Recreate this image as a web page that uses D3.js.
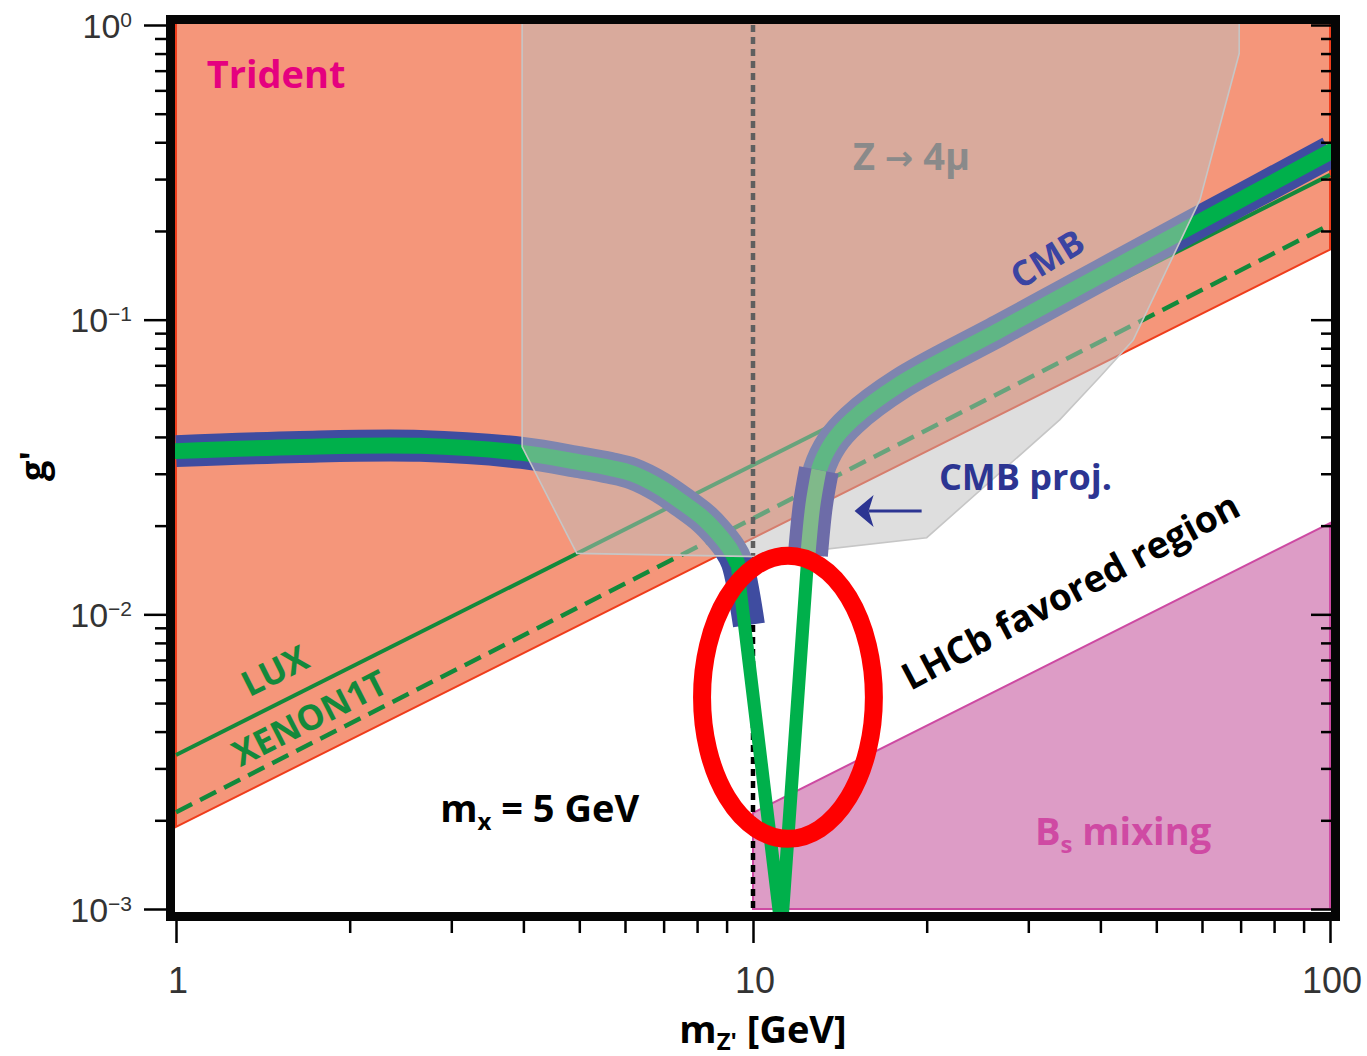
<!DOCTYPE html>
<html>
<head>
<meta charset="utf-8">
<script src="https://cdn.jsdelivr.net/npm/d3@7"></script>
<style>
  body { margin: 0; background: #ffffff; }
  svg { display: block; }
</style>
</head>
<body>
<svg id="chart" width="1367" height="1056"></svg>
<script>
// ---------------- data (m_Z' in GeV, coupling g') ----------------
const xTicks = [1, 10, 100];
const xTickLabels = ["1", "10", "100"];
const yTicks = [1e-3, 1e-2, 1e-1, 1];
const yTickExponents = ["\u22123", "\u22122", "\u22121", "0"];

// lower edge of the neutrino-trident exclusion
const tridentEdge = [[1, 0.0019], [100, 0.173]];
// direct-detection limits
const luxLimit = [[1, 0.00333], [100, 0.31]];
const xenon1tLimit = [[1, 0.00213], [100, 0.21]];
// upper edge of the B_s mixing exclusion (starts at m_Z' = 10 GeV)
const bsMixingEdge = [[10, 0.00212], [100, 0.0204]];
// Z -> 4 mu exclusion contour
const z4muContour = [
  [3.98, 1.25], [3.98, 0.037], [4.95, 0.0161], [10.3, 0.0157], [20.0, 0.0182],
  [34.0, 0.0457], [39.9, 0.0639], [45.6, 0.0853], [59.5, 0.255], [69.6, 0.80], [69.6, 1.25]
];
// CMB band, branch below resonance
const cmbLeft = [
  [1, 0.0358], [1.64, 0.0370], [2.65, 0.0373], [3.98, 0.0353], [5.01, 0.0328],
  [5.65, 0.0314], [6.19, 0.0300], [6.90, 0.0270], [7.56, 0.0239], [8.20, 0.0212],
  [8.66, 0.0190], [9.10, 0.0168], [9.38, 0.0150], [9.84, 0.0092]
];
// relic-abundance dip at the resonance m_Z' = 2 m_x
const relicDip = [[9.38, 0.0150], [11.2, 0.00085], [12.45, 0.0159]];
// CMB band, branch above resonance
const cmbRight = [
  [12.45, 0.0159], [12.7, 0.0235], [13.01, 0.0309], [13.7, 0.0382], [14.85, 0.0457],
  [17.98, 0.0605], [26.8, 0.0923], [39.9, 0.141], [59.5, 0.215], [100, 0.371]
];
const resonanceMass = 10;            // 2 m_x
const highlightBox = { m: [8.16, 16.2], g: [0.00173, 0.0158] };
const projArrow = { m: [19.6, 15.0], g: 0.02244 };

// ---------------- scales & layout ----------------
const svg = d3.select("#chart");
const x = d3.scaleLog().domain([1, 100]).range([176, 1330]);
const y = d3.scaleLog().domain([1e-3, 1]).range([909, 25]);
const plot = { left: 175, right: 1331, top: 24, bottom: 912 };
const gTop = 1.25;   // fills are closed above the visible range and clipped

svg.append("defs").append("clipPath").attr("id", "plotClip")
  .append("rect")
  .attr("x", plot.left).attr("y", plot.top)
  .attr("width", plot.right - plot.left).attr("height", plot.bottom - plot.top);

const layer = svg.append("g").attr("clip-path", "url(#plotClip)");
const line = d3.line().x(d => x(d[0])).y(d => y(d[1]));
const smooth = d3.line().x(d => x(d[0])).y(d => y(d[1])).curve(d3.curveCatmullRom.alpha(0.5));

// Trident exclusion
const [tA, tB] = tridentEdge;
layer.append("path")
  .attr("d", line([tA, tB, [tB[0], gTop], [tA[0], gTop]]) + "Z")
  .attr("fill", "#f5967a").attr("stroke", "#ef3d1c").attr("stroke-width", 2);

// B_s mixing exclusion
const [bA, bB] = bsMixingEdge;
layer.append("path")
  .attr("d", line([[bA[0], yTicks[0]], bA, bB, [bB[0], yTicks[0]]]) + "Z")
  .attr("fill", "#dd9cc6").attr("stroke", "#cd4aa2").attr("stroke-width", 2);

// LUX and XENON1T
layer.append("path").attr("d", line(luxLimit))
  .attr("fill", "none").attr("stroke", "#13893b").attr("stroke-width", 4);
layer.append("path").attr("d", line(xenon1tLimit))
  .attr("fill", "none").attr("stroke", "#13893b").attr("stroke-width", 4.5)
  .attr("stroke-dasharray", "18,9");

// m_Z' = 2 m_x
layer.append("line")
  .attr("x1", x(resonanceMass)).attr("x2", x(resonanceMass))
  .attr("y1", y(1)).attr("y2", plot.bottom)
  .attr("stroke", "#000").attr("stroke-width", 4.5).attr("stroke-dasharray", "7,5");

// CMB band with relic line inside
const blue = "#3f4ca0", green = "#00b04b";
layer.append("path").attr("d", smooth(cmbLeft)).attr("fill", "none")
  .attr("stroke", blue).attr("stroke-width", 32);
layer.append("path").attr("d", smooth(cmbRight)).attr("fill", "none")
  .attr("stroke", blue).attr("stroke-width", 32);
layer.append("path").attr("d", smooth(cmbLeft.slice(0, 13))).attr("fill", "none")
  .attr("stroke", green).attr("stroke-width", 16).attr("stroke-linecap", "round");
layer.append("path").attr("d", line(relicDip)).attr("fill", "none")
  .attr("stroke", green).attr("stroke-width", 13).attr("stroke-linejoin", "round");
layer.append("path").attr("d", smooth(cmbRight)).attr("fill", "none")
  .attr("stroke", green).attr("stroke-width", 16).attr("stroke-linecap", "round");

// Z -> 4 mu exclusion (translucent)
layer.append("path").attr("d", line(z4muContour) + "Z")
  .attr("fill", "rgb(190,190,190)").attr("fill-opacity", 0.5)
  .attr("stroke", "#c6c6c6").attr("stroke-width", 1.6);

// projected CMB edge of the upper branch
const proj = cmbRight.slice(0, 3);
layer.append("path").attr("d", smooth(proj)).attr("fill", "none")
  .attr("stroke", "#6d6ca8").attr("stroke-width", 40);
layer.append("path").attr("d", smooth(proj)).attr("fill", "none")
  .attr("stroke", "#80b98a").attr("stroke-width", 15);

// ---------------- annotations ----------------
const font = "'Open Sans', 'Noto Sans', sans-serif";
function label(txt, m, gv, opts) {
  const t = svg.append("text")
    .attr("x", x(m)).attr("y", y(gv))
    .attr("font-family", font).attr("font-weight", 700)
    .attr("font-size", opts.size || 36)
    .attr("fill", opts.color || "#000")
    .attr("text-anchor", opts.anchor || "start");
  if (opts.baseline) t.attr("dominant-baseline", opts.baseline);
  if (opts.angle) t.attr("transform", `rotate(${opts.angle},${x(m)},${y(gv)})`);
  if (txt) t.text(txt);
  return t;
}
function angleOf(pts) {
  const a = pts[pts.length - 2], b = pts[pts.length - 1];
  return Math.atan2(y(b[1]) - y(a[1]), x(b[0]) - x(a[0])) * 180 / Math.PI;
}

label("Trident", 1.13, 0.611, { color: "#e5007f", size: 38 });

const z4 = label("", 14.9, 0.322, { color: "#8a8a8a", size: 38 });
z4.append("tspan").text("Z ");
z4.append("tspan").attr("font-family", "'DejaVu Sans', sans-serif").attr("font-size", 34).text("\u2192");
z4.append("tspan").text(" 4\u03bc");

label("CMB", 32.3, 0.162, { color: "#3b44a2", size: 35, anchor: "middle", baseline: "central", angle: angleOf(cmbRight) - 3 });
label("CMB proj.", 21.0, 0.0264, { color: "#2c3592", size: 36 });
label("LHCb favored region", 35.4, 0.0121, { color: "#000", size: 37, anchor: "middle", baseline: "central", angle: -28 });
label("LUX", 1.48, 0.00648, { color: "#13893b", size: 35, anchor: "middle", baseline: "central", angle: angleOf(luxLimit) });
label("XENON1T", 1.70, 0.00448, { color: "#13893b", size: 35, anchor: "middle", baseline: "central", angle: angleOf(xenon1tLimit) });

const mx = label("m", 2.87, 0.00198, { size: 38 });
mx.append("tspan").attr("font-size", 24).attr("dy", 8).text("x");
mx.append("tspan").attr("dy", -8).text(" = 5 GeV");

const bs = label("B", 30.8, 0.00165, { color: "#cf4aa3", size: 38 });
bs.append("tspan").attr("font-size", 24).attr("dy", 8).text("s");
bs.append("tspan").attr("dy", -8).text(" mixing");

// arrow toward the projected edge
const arrowColor = "#2c3592";
svg.append("line")
  .attr("x1", x(projArrow.m[0])).attr("x2", x(projArrow.m[1]) + 14)
  .attr("y1", y(projArrow.g)).attr("y2", y(projArrow.g))
  .attr("stroke", arrowColor).attr("stroke-width", 3);
const ax = x(projArrow.m[1]), ay = y(projArrow.g);
svg.append("path")
  .attr("d", `M${ax},${ay} L${ax + 19},${ay - 16} L${ax + 14},${ay} L${ax + 19},${ay + 16} Z`)
  .attr("fill", arrowColor);

// highlight ellipse around the resonance
const ex0 = x(highlightBox.m[0]), ex1 = x(highlightBox.m[1]);
const ey0 = y(highlightBox.g[1]), ey1 = y(highlightBox.g[0]);
svg.append("ellipse")
  .attr("cx", (ex0 + ex1) / 2).attr("cy", (ey0 + ey1) / 2)
  .attr("rx", (ex1 - ex0) / 2).attr("ry", (ey1 - ey0) / 2)
  .attr("fill", "none").attr("stroke", "#ff0000").attr("stroke-width", 18);

// ---------------- frame & axes ----------------
svg.append("rect")
  .attr("x", plot.left - 4.5).attr("y", plot.top - 4.5)
  .attr("width", plot.right - plot.left + 9).attr("height", plot.bottom - plot.top + 9)
  .attr("fill", "none").attr("stroke", "#050505").attr("stroke-width", 9);

const minorX = [];
[1, 10].forEach(d => { for (let k = 2; k <= 9; k++) minorX.push(d * k); });
const minorY = [];
[1e-3, 1e-2, 1e-1].forEach(d => { for (let k = 2; k <= 9; k++) minorY.push(d * k); });

function styleAxis(g) {
  g.select(".domain").remove();
  g.selectAll(".tick line").attr("stroke", "#000").attr("stroke-width", 2.5);
  g.selectAll(".tick text").remove();
}

// bottom
svg.append("g").attr("transform", `translate(0,${plot.bottom + 9})`)
  .call(d3.axisBottom(x).tickValues(xTicks).tickSize(22)).call(styleAxis);
svg.append("g").attr("transform", `translate(0,${plot.bottom + 9})`)
  .call(d3.axisBottom(x).tickValues(minorX).tickSize(12)).call(styleAxis);
// left
svg.append("g").attr("transform", `translate(${plot.left - 9},0)`)
  .call(d3.axisLeft(y).tickValues(yTicks).tickSize(22)).call(styleAxis);
svg.append("g").attr("transform", `translate(${plot.left - 9},0)`)
  .call(d3.axisLeft(y).tickValues(minorY).tickSize(11)).call(styleAxis);
// right (ticks point inward)
svg.append("g").attr("transform", `translate(${plot.right},0)`)
  .call(d3.axisLeft(y).tickValues(yTicks).tickSize(20)).call(styleAxis);
svg.append("g").attr("transform", `translate(${plot.right},0)`)
  .call(d3.axisLeft(y).tickValues(minorY).tickSize(10)).call(styleAxis);

const tickFont = "'Liberation Sans', Arial, sans-serif";
xTicks.forEach((v, i) => {
  svg.append("text").attr("x", x(v) + 2).attr("y", 993)
    .attr("text-anchor", "middle").attr("font-family", tickFont)
    .attr("font-size", 36).attr("fill", "#333").text(xTickLabels[i]);
});
yTicks.forEach((v, i) => {
  const t = svg.append("text").attr("x", 132).attr("y", y(v) + 12.5)
    .attr("text-anchor", "end").attr("font-family", tickFont)
    .attr("font-size", 34).attr("fill", "#333");
  t.append("tspan").text("10");
  t.append("tspan").attr("font-size", 21).attr("dy", -11).text(yTickExponents[i]);
});

// axis titles
const xt = svg.append("text").attr("x", 763).attr("y", 1043)
  .attr("text-anchor", "middle").attr("font-family", font).attr("font-weight", 700)
  .attr("font-size", 38).attr("fill", "#000");
xt.append("tspan").text("m");
xt.append("tspan").attr("font-size", 24).attr("dy", 7).text("Z'");
xt.append("tspan").attr("dy", -7).text(" [GeV]");

svg.append("text").attr("transform", "translate(46,466) rotate(-90)")
  .attr("text-anchor", "middle").attr("font-family", font).attr("font-weight", 700)
  .attr("font-size", 36).attr("fill", "#000").text("g'");
</script>
</body>
</html>
